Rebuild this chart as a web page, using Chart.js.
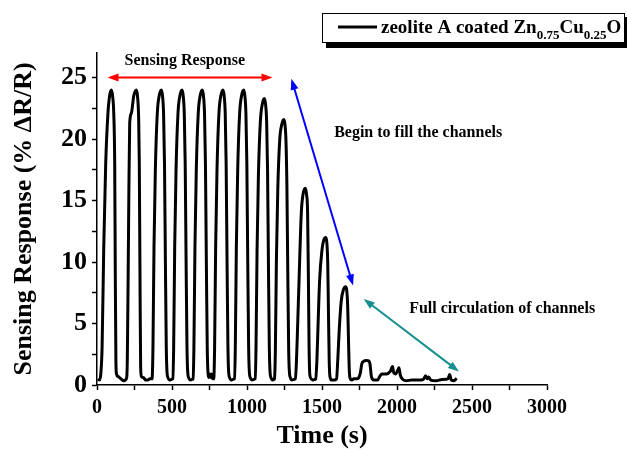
<!DOCTYPE html>
<html>
<head>
<meta charset="utf-8">
<script src="https://cdn.jsdelivr.net/npm/chart.js@4.4.1/dist/chart.umd.min.js"></script>
<style>
  html, body { margin: 0; padding: 0; background: #fff; }
</style>
</head>
<body>
<canvas id="sensorChart" width="627" height="450"></canvas>
<script>
// Time (s) and sensing response (% dR/R)
const timeS = [
    7, 18, 26, 34, 45, 58, 73, 85, 96, 104, 112, 118, 122, 126, 130,
    140, 150, 160, 175, 190, 198,
    202, 207, 212, 218, 229, 245, 262, 270, 278, 282, 287, 291, 296,
    310, 325, 340, 352,
    367, 373, 380, 389, 402, 416, 429, 437, 444, 450, 456, 462, 467, 473, 485, 495,
    505, 511, 518, 527, 540, 554, 567, 575, 582, 588, 594, 600, 605, 611, 622, 632,
    640, 646, 653, 662, 675, 689, 702, 710, 717, 723, 729, 735, 740, 746, 752, 758, 764, 771,
    778, 784, 791, 800, 813, 827, 840, 848, 855, 861, 867, 873, 878, 884, 895, 905,
    916, 922, 929, 938, 951, 965, 978, 986, 993, 999, 1005, 1011, 1016, 1022, 1033, 1044,
    1054, 1060, 1067, 1076, 1089, 1103, 1116, 1124, 1131, 1137, 1143, 1149, 1154, 1160, 1170, 1178,
    1183, 1189, 1196, 1205, 1218, 1232, 1245, 1253, 1260, 1266, 1272, 1278, 1283, 1289, 1300, 1312,
    1322, 1330, 1338, 1347, 1362, 1375, 1389, 1397, 1404, 1409, 1414, 1419, 1428, 1440, 1450,
    1458, 1466, 1474, 1484, 1500, 1512, 1525, 1532, 1538, 1543, 1548, 1553, 1565, 1580,
    1597, 1605, 1615, 1628, 1644, 1658, 1665, 1671, 1676, 1681, 1686, 1700, 1712, 1730,
    1745, 1756, 1765, 1780, 1796, 1812, 1820, 1828, 1835, 1850, 1870, 1885, 1900, 1930, 1955,
    1970, 1978, 1990, 2005, 2013, 2022, 2035, 2060, 2100, 2140, 2175, 2191, 2202, 2210, 2225,
    2260, 2300, 2340, 2351, 2362, 2380, 2398
];
const responsePct = [
    0.5, 0.4, 1, 3.1, 11.2, 18, 22.1, 23.6, 24, 23.5, 22, 18, 9, 2, 0.9,
    0.7, 0.6, 0.5, 0.35, 0.4, 0.6,
    2, 8, 15, 21.3, 22.1, 23.5, 24, 23.5, 21.5, 18, 8, 1.5, 0.7,
    0.6, 0.4, 0.4, 0.5,
    0.5, 3, 11.2, 17.5, 22.1, 23.6, 24, 23.5, 22, 18, 10, 3, 1, 0.6, 0.4, 0.45,
    0.5, 3, 11.2, 17.5, 22.1, 23.6, 24, 23.5, 22, 18, 10, 3, 1, 0.6, 0.4, 0.45,
    0.5, 3, 11.2, 17.5, 22.1, 23.6, 24, 23.5, 22, 18, 10, 3, 1, 0.6, 0.9, 0.6, 0.9, 0.5,
    0.5, 3, 11.2, 17.5, 22.1, 23.6, 24, 23.5, 22, 18, 10, 3, 1, 0.6, 0.4, 0.45,
    0.5, 3, 11.2, 17.5, 22.1, 23.6, 24, 23.5, 22, 18, 10, 3, 1, 0.6, 0.4, 0.45,
    0.5, 3, 10.9, 17, 21.4, 22.9, 23.3, 22.8, 21.4, 17.5, 9.7, 2.9, 1, 0.6, 0.4, 0.45,
    0.5, 2.7, 10.1, 15.8, 19.9, 21.2, 21.6, 21.2, 19.8, 16.2, 9, 2.7, 1, 0.6, 0.4, 0.45,
    0.5, 2, 5, 8.5, 14, 15.6, 16, 15.5, 14, 9, 3, 0.8, 0.5, 0.4, 0.45,
    0.5, 2, 5, 8.5, 11, 11.8, 12, 11.6, 10, 6, 2, 0.7, 0.4, 0.4,
    0.5, 2, 4.5, 6.8, 7.8, 8, 7.7, 6.5, 4, 1.5, 0.6, 0.4, 0.5, 0.5,
    0.6, 1.0, 1.7, 1.95, 2.0, 1.95, 1.7, 0.8, 0.5, 0.4, 0.4, 0.7, 0.9, 0.9, 1.1,
    1.5, 1.0, 0.9, 1.2, 1.4, 0.8, 0.5, 0.35, 0.4, 0.4, 0.45, 0.75, 0.5, 0.65, 0.4,
    0.35, 0.45, 0.5, 0.85, 0.4, 0.35, 0.55
];

const xTickStep = 250;
const xLabelStep = 500;
const yTickStep = 2.5;
const yLabelStep = 5;

const serif = '"Liberation Serif", "Times New Roman", serif';
const canvas = document.getElementById('sensorChart');

// Double headed arrow between two pixel points
function drawArrow(ctx, x1, y1, x2, y2, color) {
    const ang = Math.atan2(y2 - y1, x2 - x1);
    const len = 11, half = 4;
    ctx.save();
    ctx.strokeStyle = color;
    ctx.fillStyle = color;
    ctx.lineWidth = 2;
    ctx.beginPath();
    ctx.moveTo(x1 + Math.cos(ang) * len * 0.8, y1 + Math.sin(ang) * len * 0.8);
    ctx.lineTo(x2 - Math.cos(ang) * len * 0.8, y2 - Math.sin(ang) * len * 0.8);
    ctx.stroke();
    [[x1, y1, ang], [x2, y2, ang + Math.PI]].forEach(([x, y, a]) => {
        const bx = x + Math.cos(a) * len, by = y + Math.sin(a) * len;
        ctx.beginPath();
        ctx.moveTo(x, y);
        ctx.lineTo(bx - Math.sin(a) * half, by + Math.cos(a) * half);
        ctx.lineTo(bx + Math.sin(a) * half, by - Math.cos(a) * half);
        ctx.closePath();
        ctx.fill();
    });
    ctx.restore();
}

// Arrows, notes and the boxed legend
const notesPlugin = {
    id: 'notes',
    afterDraw(chart) {
        const ctx = chart.ctx;
        const xs = chart.scales.x, ys = chart.scales.y;
        const px = v => xs.getPixelForValue(v);
        const py = v => ys.getPixelForValue(v);

        drawArrow(ctx, px(70), py(25), px(1170), py(25), '#ff0000');
        drawArrow(ctx, px(1296), py(24.9), px(1707), py(8.1), '#0000ff');
        drawArrow(ctx, px(1778), py(7.0), px(2413), py(1.1), '#178f8f');

        ctx.save();
        ctx.fillStyle = '#000';
        ctx.font = 'bold 16px ' + serif;
        ctx.textAlign = 'center';
        ctx.textBaseline = 'middle';
        ctx.fillText('Sensing Response', px(585), py(26.4));
        ctx.fillText('Begin to fill the channels', px(2141), py(20.5));
        ctx.fillText('Full circulation of channels', px(2701), py(6.2));
        ctx.restore();

        // legend box with shadow
        ctx.save();
        ctx.fillStyle = '#000';
        ctx.fillRect(326, 17, 304, 31);
        ctx.fillStyle = '#fff';
        ctx.fillRect(322, 13, 303, 30);
        ctx.strokeStyle = '#000';
        ctx.lineWidth = 1;
        ctx.strokeRect(322.5, 13.5, 302, 29);
        ctx.lineWidth = 3;
        ctx.beginPath();
        ctx.moveTo(338, 27);
        ctx.lineTo(377, 27);
        ctx.stroke();

        const parts = [
            ['zeolite A coated Zn', 19, 0],
            ['0.75', 13, 6],
            ['Cu', 19, 0],
            ['0.25', 13, 6],
            ['O', 19, 0]
        ];
        let x = 381;
        ctx.textBaseline = 'alphabetic';
        ctx.fillStyle = '#000';
        parts.forEach(([txt, size, drop]) => {
            ctx.font = 'bold ' + size + 'px ' + serif;
            ctx.fillText(txt, x, 33 + drop);
            x += ctx.measureText(txt).width;
        });
        ctx.restore();
    }
};

new Chart(canvas, {
    type: 'line',
    data: {
        datasets: [{
            label: 'zeolite A coated Zn0.75Cu0.25O',
            data: timeS.map((t, i) => ({ x: t, y: responsePct[i] })),
            borderColor: '#000',
            borderWidth: 3,
            pointRadius: 0,
            fill: false,
            cubicInterpolationMode: 'monotone'
        }]
    },
    options: {
        responsive: false,
        animation: false,
        layout: { padding: { top: 53, right: 80, left: 0, bottom: 0 } },
        plugins: {
            legend: { display: false },
            tooltip: { enabled: false }
        },
        scales: {
            x: {
                type: 'linear',
                min: 0,
                max: 3000,
                afterFit: s => { s.height = 65; },
                ticks: {
                    stepSize: xTickStep,
                    autoSkip: false,
                    maxRotation: 0,
                    color: '#000',
                    padding: 6,
                    font: { family: serif, size: 20, weight: 'bold' },
                    callback: v => (v % xLabelStep === 0 ? v : '')
                },
                grid: { drawOnChartArea: false, tickLength: 5, tickColor: '#000', tickWidth: 1.5 },
                border: { display: true, color: '#000', width: 1.5 },
                title: {
                    display: true,
                    text: 'Time (s)',
                    color: '#000',
                    font: { family: serif, size: 26, weight: 'bold', lineHeight: 1 },
                    padding: { top: 0, bottom: 1 }
                }
            },
            y: {
                min: 0,
                max: 27,
                afterFit: s => { s.width = 97; },
                ticks: {
                    stepSize: yTickStep,
                    includeBounds: false,
                    autoSkip: false,
                    color: '#000',
                    padding: 5,
                    font: { family: serif, size: 26, weight: 'bold' },
                    callback: v => (v % yLabelStep === 0 ? v : '')
                },
                grid: { drawOnChartArea: false, tickLength: 5, tickColor: '#000', tickWidth: 1.5 },
                border: { display: true, color: '#000', width: 1.5 },
                title: {
                    display: true,
                    text: 'Sensing Response (% \u0394R/R)',
                    color: '#000',
                    font: { family: serif, size: 26, weight: 'bold', lineHeight: 1 },
                    padding: { top: 11, bottom: 0 }
                }
            }
        }
    },
    plugins: [notesPlugin]
});
</script>
</body>
</html>
